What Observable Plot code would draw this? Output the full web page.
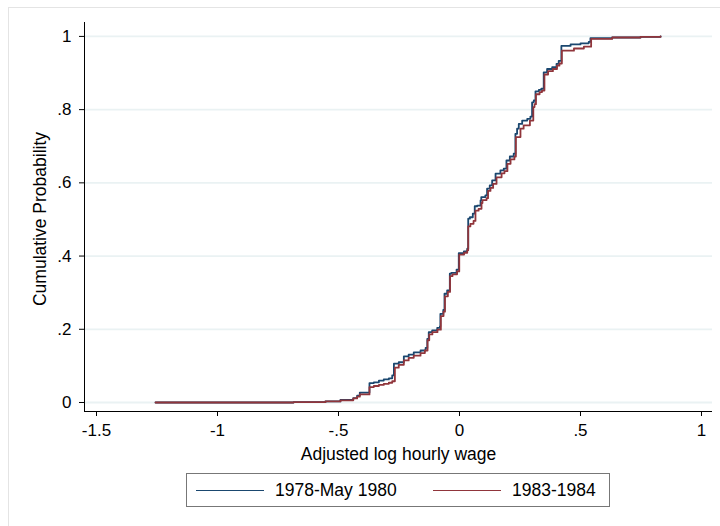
<!DOCTYPE html>
<html><head><meta charset="utf-8">
<script src="https://cdn.jsdelivr.net/npm/d3@7"></script>
<script src="https://cdn.jsdelivr.net/npm/@observablehq/plot@0.6"></script>
<style>
body{margin:0;background:#fff;font-family:"Liberation Sans",Arial,Helvetica,sans-serif;}
#wrap{position:relative;width:720px;height:526px;overflow:hidden;background:#fff;}
#frame{position:absolute;left:8px;top:7px;width:760px;height:560px;border:1px solid #e4e4e4;box-sizing:border-box;}
#chart{position:absolute;left:0;top:0;}
#legend{position:absolute;left:186px;top:473px;width:424px;height:34px;border:1px solid #777;box-sizing:border-box;background:#fff;font-size:17.5px;color:#000;}
#legend .sw{position:absolute;top:16px;width:68px;height:0;border-top:1.8px solid;}
#legend .lb{position:absolute;top:6px;line-height:20px;white-space:nowrap;}
</style>
</head><body>
<div id="wrap"><div id="frame"></div><div id="chart"></div>
<div id="legend"></div></div>
<script>
// Tick values and labels
const xTicks = [-1.5, -1, -0.5, 0, 0.5, 1];
const xTickLabels = ["-1.5", "-1", "-.5", "0", ".5", "1"];
const yTicks = [0, 0.2, 0.4, 0.6, 0.8, 1];
const yTickLabels = ["0", ".2", ".4", ".6", ".8", "1"];
const xTitle = "Adjusted log hourly wage";
const yTitle = "Cumulative Probability";
const seriesNames = ["1978-May 1980", "1983-1984"];

// Series 1: 1978-May 1980 (wage value where step occurs, cumulative probability after step)
const wage78 = [-1.256,-0.686,-0.554,-0.492,-0.439,-0.423,-0.412,-0.372,-0.354,-0.333,-0.313,-0.292,-0.278,-0.271,-0.251,-0.230,-0.210,-0.189,-0.161,-0.140,-0.133,-0.127,-0.113,-0.092,-0.081,-0.079,-0.067,-0.062,-0.051,-0.040,-0.034,-0.012,-0.003,0.018,0.032,0.036,0.043,0.055,0.063,0.073,0.087,0.090,0.107,0.114,0.125,0.135,0.149,0.169,0.183,0.194,0.208,0.224,0.231,0.238,0.245,0.259,0.280,0.293,0.300,0.307,0.314,0.328,0.338,0.348,0.362,0.383,0.401,0.410,0.421,0.459,0.500,0.534,0.541,0.631,0.748,0.831];
const cum78  = [0,0.001,0.003,0.007,0.012,0.019,0.027,0.053,0.055,0.060,0.063,0.066,0.074,0.106,0.110,0.126,0.131,0.137,0.142,0.149,0.174,0.192,0.197,0.204,0.208,0.242,0.253,0.297,0.306,0.352,0.354,0.363,0.408,0.413,0.420,0.502,0.506,0.516,0.536,0.538,0.552,0.561,0.566,0.584,0.593,0.607,0.625,0.634,0.639,0.661,0.672,0.680,0.734,0.748,0.761,0.770,0.775,0.781,0.820,0.825,0.850,0.854,0.857,0.902,0.911,0.916,0.925,0.933,0.974,0.978,0.981,0.985,0.995,0.997,0.999,1.0];

// Series 2: 1983-1984
const wage83 = [-1.256,-0.686,-0.554,-0.492,-0.439,-0.423,-0.412,-0.372,-0.354,-0.333,-0.313,-0.292,-0.278,-0.267,-0.251,-0.230,-0.210,-0.189,-0.161,-0.143,-0.132,-0.125,-0.112,-0.091,-0.077,-0.066,-0.060,-0.048,-0.039,-0.029,-0.010,-0.001,0.019,0.032,0.036,0.045,0.058,0.066,0.079,0.091,0.095,0.112,0.118,0.128,0.139,0.153,0.174,0.186,0.198,0.211,0.227,0.233,0.252,0.265,0.291,0.305,0.310,0.316,0.331,0.341,0.351,0.366,0.386,0.403,0.413,0.423,0.473,0.514,0.544,0.631,0.748,0.831];
const cum83  = [0,0.001,0.003,0.006,0.011,0.016,0.022,0.042,0.045,0.048,0.051,0.054,0.058,0.095,0.103,0.115,0.122,0.128,0.135,0.142,0.170,0.186,0.192,0.199,0.236,0.248,0.290,0.302,0.345,0.350,0.358,0.404,0.409,0.416,0.481,0.488,0.496,0.524,0.529,0.545,0.553,0.558,0.578,0.586,0.597,0.615,0.626,0.632,0.652,0.664,0.672,0.725,0.748,0.757,0.770,0.807,0.815,0.842,0.848,0.852,0.896,0.905,0.911,0.920,0.926,0.961,0.967,0.972,0.993,0.997,0.999,1.0];

const colors = ["#1a476f", "#90353b"];

const s78 = wage78.map((w, i) => ({wage: w, cum: cum78[i]}));
const s83 = wage83.map((w, i) => ({wage: w, cum: cum83[i]}));

const xDomain = [-1.5496, 1.0455];
const yDomain = [-0.0246, 1.038];
const font = '"Liberation Sans", Arial, Helvetica, sans-serif';

const chart = Plot.plot({
  width: 720, height: 470,
  marginLeft: 84, marginRight: 8, marginTop: 22, marginBottom: 59,
  style: {fontFamily: font, fontSize: "17px", color: "#000", background: "transparent"},
  x: {domain: xDomain},
  y: {domain: yDomain},
  marks: [
    Plot.ruleY(yTicks, {stroke: "#eaf2f3", strokeWidth: 1.8}),
    Plot.ruleX([xDomain[0]], {stroke: "#000", strokeWidth: 1}),
    Plot.ruleY([yDomain[0]], {stroke: "#000", strokeWidth: 1}),
    Plot.axisX({ticks: xTicks, tickFormat: d => xTickLabels[xTicks.indexOf(d)], tickSize: 5, tickPadding: 7, label: null, fontSize: 17}),
    Plot.axisY({ticks: yTicks, tickFormat: d => yTickLabels[yTicks.indexOf(d)], tickSize: 5, tickPadding: 8, label: null, fontSize: 17}),
    Plot.line(s78, {x: "wage", y: "cum", curve: "step-after", stroke: colors[0], strokeWidth: 1.8}),
    Plot.line(s83, {x: "wage", y: "cum", curve: "step-after", stroke: colors[1], strokeWidth: 1.8}),
    Plot.text([xTitle], {frameAnchor: "bottom", dy: 43, lineAnchor: "middle", textAnchor: "middle", fontSize: 17.5}),
    Plot.text([yTitle], {frameAnchor: "left", dx: -44, dy: 2, rotate: -90, lineAnchor: "middle", textAnchor: "middle", fontSize: 17.5})
  ]
});
document.getElementById("chart").appendChild(chart);

const lg = document.getElementById("legend");
const swX = [9, 246], lbX = [88, 325];
seriesNames.forEach((n, i) => {
  const sw = document.createElement("div");
  sw.className = "sw"; sw.style.left = swX[i] + "px"; sw.style.borderTopColor = colors[i];
  const lb = document.createElement("div");
  lb.className = "lb"; lb.style.left = lbX[i] + "px"; lb.textContent = n;
  lg.appendChild(sw); lg.appendChild(lb);
});
</script>
</body></html>
